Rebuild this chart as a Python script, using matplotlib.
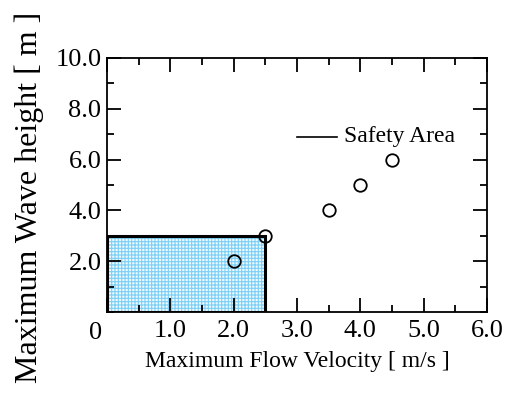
import matplotlib.pyplot as plt
import matplotlib.transforms as mtransforms
from matplotlib.patches import Rectangle
from matplotlib.ticker import MultipleLocator

# data
velocity = [2.0, 2.5, 3.5, 4.0, 4.5]
wave_height = [2.0, 3.0, 4.0, 5.0, 6.0]
safe_velocity = 2.5
safe_height = 3.0
x_ticks = [0, 1, 2, 3, 4, 5, 6]
y_ticks = [2, 4, 6, 8, 10]

plt.rcParams['font.family'] = ['Liberation Serif', 'DejaVu Serif']
plt.rcParams['hatch.linewidth'] = 0.8

fig = plt.figure(figsize=(5.13, 3.98), dpi=100)
ax = fig.add_axes([0.2086, 0.2161, 0.7407, 0.6382])

# safety area: light blue grid fill plus black outline
ax.add_patch(Rectangle((0, 0), safe_velocity, safe_height, facecolor='#eefaff',
                       edgecolor='#7dcff5', linewidth=0, hatch='+++++', zorder=1))
ax.add_patch(Rectangle((0, 0), safe_velocity, safe_height, facecolor='none',
                       edgecolor='black', linewidth=2.2, zorder=2))

ax.plot(velocity, wave_height, 'o', mfc='none', mec='black', ms=9, mew=1.3,
        zorder=3, clip_on=False)

# legend entry drawn by hand
ax.plot([3.0, 3.63], [6.9, 6.9], color='black', lw=1.2)
ax.text(3.75, 6.9, 'Safety Area', fontsize=17, va='center', ha='left')

ax.set_xlim(0, 6)
ax.set_ylim(0, 10)
ax.set_xticks(x_ticks)
ax.set_yticks(y_ticks)
ax.set_xticklabels([''] + [f'{v:.1f}' for v in x_ticks[1:]])
ax.set_yticklabels([f'{v:.1f}' for v in y_ticks])
ax.xaxis.set_minor_locator(MultipleLocator(0.5))
ax.yaxis.set_minor_locator(MultipleLocator(1.0))
ax.tick_params(which='both', direction='in', top=True, right=True,
               labelsize=19, width=1.3)
ax.tick_params(axis='x', pad=6)
ax.tick_params(axis='y', pad=4)
ax.tick_params(which='major', length=10)
ax.tick_params(which='minor', length=5)
for s in ax.spines.values():
    s.set_linewidth(1.3)

# shared origin label
origin = mtransforms.offset_copy(ax.transAxes, fig=fig, x=-11, y=-10, units='dots')
ax.text(0, 0, '0', fontsize=19, ha='center', va='top', transform=origin)

ax.set_xlabel('Maximum Flow Velocity [ m/s ]', fontsize=17, labelpad=6)
ax.set_ylabel('Maximum Wave height [ m ]', fontsize=23)
ax.yaxis.set_label_coords(-0.165, 0.453)

plt.savefig('out.png', dpi=100)
plt.close()
